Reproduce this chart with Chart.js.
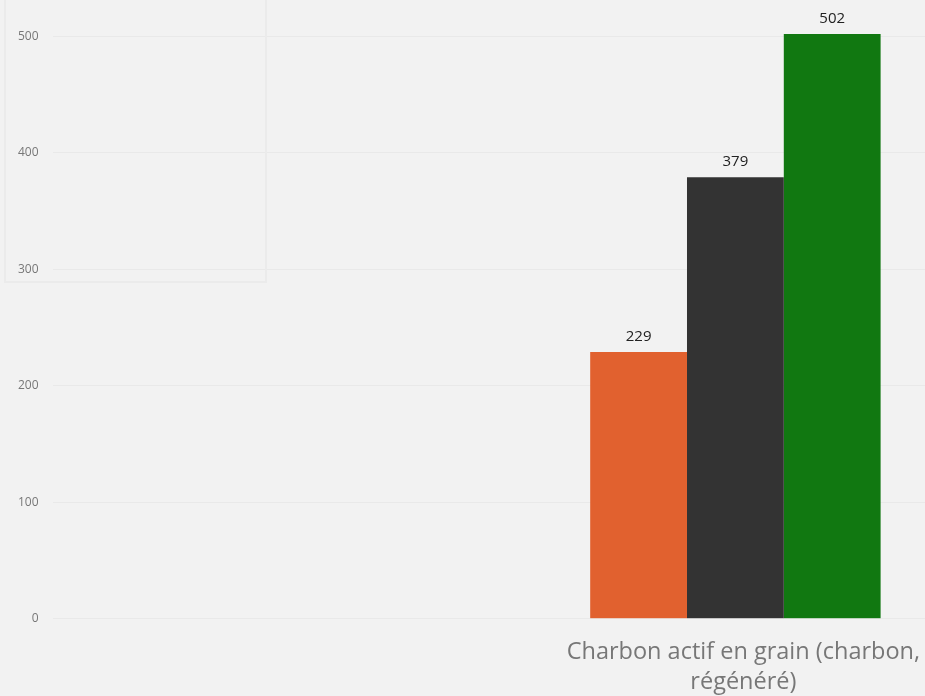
<!DOCTYPE html>
<html lang="fr">
<head>
<meta charset="utf-8">
<script src="https://cdn.jsdelivr.net/npm/chart.js@4/dist/chart.umd.min.js"></script>
<style>
  html, body { margin: 0; padding: 0; background: #f2f2f2; overflow: hidden; }
  #wrap { position: relative; width: 963px; height: 715px; }
  #panel { position: absolute; left: 4px; top: -3px; width: 263px; height: 286px;
           border: 2px solid #ebebeb; box-sizing: border-box; pointer-events: none; }
</style>
</head>
<body>
<div id="wrap">
  <div id="panel"></div>
  <canvas id="chart"></canvas>
</div>
<script>
// Categories (the first slot carries no values)
const categories = ['', ['Charbon actif en grain (charbon,', 'régénéré)']];
// Series
const seriesNames = ['Série A', 'Série B', 'Série C'];
const seriesA = [null, 229];
const seriesB = [null, 379];
const seriesC = [null, 502];
const seriesColors = ['#E1612F', '#333333', '#117811'];
// Y axis
const yTickValues = [0, 100, 200, 300, 400, 500];

const valueLabels = {
  id: 'valueLabels',
  afterDatasetsDraw(chart) {
    const ctx = chart.ctx;
    ctx.save();
    ctx.font = '15px "Open Sans", sans-serif';
    ctx.fillStyle = '#222222';
    ctx.textAlign = 'center';
    ctx.textBaseline = 'bottom';
    chart.data.datasets.forEach((ds, i) => {
      chart.getDatasetMeta(i).data.forEach((el, j) => {
        const v = ds.data[j];
        if (v === null || v === undefined) return;
        ctx.fillText(String(v), el.x, el.y - 8);
      });
    });
    ctx.restore();
  }
};

const data = {
  labels: categories,
  datasets: [seriesA, seriesB, seriesC].map((d, i) => ({
    label: seriesNames[i],
    data: d,
    backgroundColor: seriesColors[i],
    borderWidth: 0,
    categoryPercentage: 0.638,
    barPercentage: 1
  }))
};

new Chart(document.getElementById('chart'), {
  type: 'bar',
  data,
  plugins: [valueLabels],
  options: {
    responsive: true,
    maintainAspectRatio: false,
    animation: false,
    layout: { padding: { left: 4, right: 0, top: 0, bottom: 0 } },
    plugins: { legend: { display: false }, tooltip: { enabled: false } },
    scales: {
      x: {
        grid: { display: false, drawTicks: false },
        border: { display: false },
        ticks: {
          color: '#777777',
          padding: 18,
          labelOffset: 8,
          maxRotation: 0,
          font: { family: '"Open Sans", sans-serif', size: 23.5, lineHeight: 1.28 }
        }
      },
      y: {
        min: 0,
        max: 513,
        grid: { color: '#e9e9e9', lineWidth: 1, drawTicks: false },
        border: { display: false },
        afterBuildTicks(scale) {
          scale.ticks = yTickValues.map(v => ({ value: v }));
        },
        ticks: {
          color: '#777777',
          padding: 14,
          font: { family: '"Open Sans", sans-serif', size: 12 }
        }
      }
    }
  }
});
</script>
</body>
</html>
